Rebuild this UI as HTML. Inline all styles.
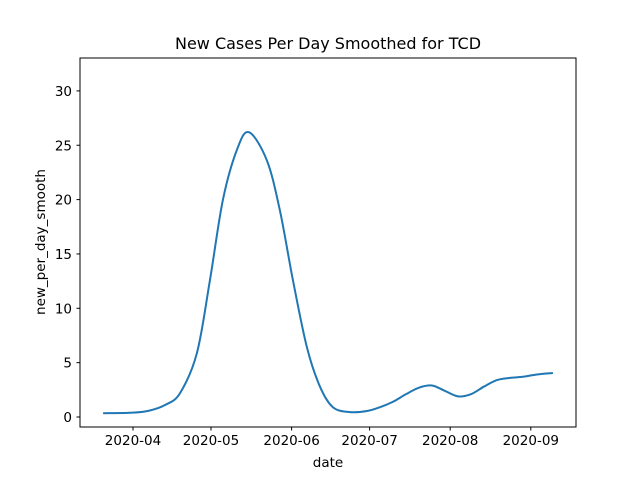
<!DOCTYPE html>
<html><head><meta charset="utf-8"><style>
body{margin:0;background:#fff}
svg{display:block;font-family:"DejaVu Sans","Liberation Sans",sans-serif}
</style></head><body>
<svg id="c" width="640" height="480">
<rect width="640" height="480" fill="#fff"/>
<text x="328" y="49" font-size="16" text-anchor="middle">New Cases Per Day Smoothed for TCD</text>
<text x="328" y="467" font-size="13.5" text-anchor="middle">date</text>
<text transform="translate(45,242) rotate(-90)" font-size="13.5" text-anchor="middle">new_per_day_smooth</text>
<g id="ticks"></g>
<path id="line" fill="none" stroke="#1f77b4" stroke-width="2"/>
<rect x="80" y="58" width="496" height="369" fill="none" stroke="#000" stroke-width="1"/>
</svg>
<script>
const days = [-11.5,0,6.5,12.3,18.1,24.6,29.6,34.6,40,44.6,51.5,56.5,61.5,66.9,71.9,76.9,83.5,90,95,100,105,110,115,120,125,130,135,140,145,150,155,161.5];
const values = [0.35,0.4,0.6,1.1,2.2,5.9,12.6,20,24.6,26.2,23.6,19,12.6,6.4,2.8,0.9,0.45,0.55,0.9,1.4,2.1,2.7,2.9,2.4,1.9,2.1,2.8,3.4,3.6,3.7,3.9,4.05];
const yTicks = [0,5,10,15,20,25,30];
const xTickDays = [0,30,61,91,122,153];
const xTickLabels = ["2020-04","2020-05","2020-06","2020-07","2020-08","2020-09"];
const xs = d => 133 + d*2.6;
const ys = v => 417 - v*10.87;
const ns="http://www.w3.org/2000/svg";
const g=document.getElementById('ticks');
function mk(t,a){const e=document.createElementNS(ns,t);for(const k in a)e.setAttribute(k,a[k]);return e;}
yTicks.forEach(v=>{
  const l=mk('line',{x1:76.5,x2:80,y1:ys(v),y2:ys(v),stroke:'#000'});
  
  
  g.appendChild(l);
  const t=mk('text',{x:72,y:ys(v)+5,'font-size':13.5,'text-anchor':'end'});
  t.textContent=v;
  
  
  g.appendChild(t);
});
xTickDays.forEach((d,i)=>{
  const l=mk('line',{x1:xs(d),x2:xs(d),y1:427,y2:430.5,stroke:'#000'});
  
  
  g.appendChild(l);
  const t=mk('text',{x:xs(d),y:445,'font-size':13.5,'text-anchor':'middle'});
  t.textContent=xTickLabels[i];
  
  
  g.appendChild(t);
});
const P=days.map((d,i)=>[xs(d),ys(values[i])]);
let s='M'+P[0][0]+','+P[0][1];
for(let i=0;i<P.length-1;i++){
  const p0=P[Math.max(0,i-1)],p1=P[i],p2=P[i+1],p3=P[Math.min(P.length-1,i+2)];
  const c1=[p1[0]+(p2[0]-p0[0])/6,p1[1]+(p2[1]-p0[1])/6];
  const c2=[p2[0]-(p3[0]-p1[0])/6,p2[1]-(p3[1]-p1[1])/6];
  s+=`C${c1[0]},${c1[1]} ${c2[0]},${c2[1]} ${p2[0]},${p2[1]}`;
}
document.getElementById('line').setAttribute('d',s);
</script>
</body></html>
